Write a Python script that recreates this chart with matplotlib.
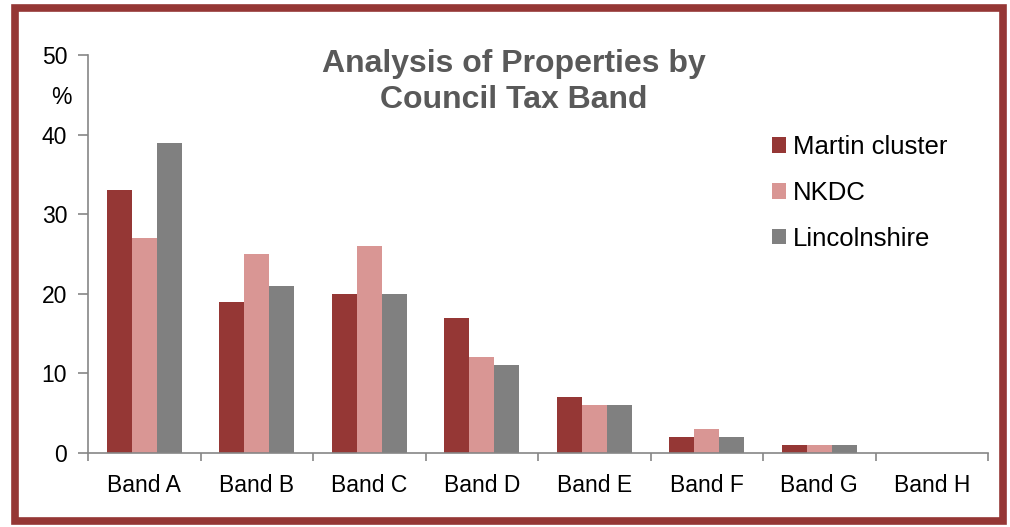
import matplotlib.pyplot as plt
import numpy as np
from matplotlib.patches import Rectangle

plt.rcParams['font.family'] = ['Liberation Sans', 'DejaVu Sans']

# Data
bands = ['Band A', 'Band B', 'Band C', 'Band D', 'Band E', 'Band F', 'Band G', 'Band H']
martin = [33, 19, 20, 17, 7, 2, 1, 0]
nkdc = [27, 25, 26, 12, 6, 3, 1, 0]
lincs = [39, 21, 20, 11, 6, 2, 1, 0]

series = [('Martin cluster', martin, '#953735'),
          ('NKDC', nkdc, '#D99694'),
          ('Lincolnshire', lincs, '#808080')]

fig = plt.figure(figsize=(10.1, 5.27), dpi=100)
ax = fig.add_axes([88 / 1010, 1 - 453 / 527, 900 / 1010, 398 / 527])

# frame around the chart
fig.patches.append(Rectangle((14.5 / 1010, 1 - 521 / 527), 988 / 1010, 513 / 527,
                             transform=fig.transFigure, fill=False,
                             edgecolor='#953735', linewidth=5.5))

x = np.arange(len(bands))
w = 0.222
for i, (name, vals, col) in enumerate(series):
    ax.bar(x + (i - 1) * w, vals, w, color=col, label=name)

ax.set_xlim(-0.5, len(bands) - 0.5)
ax.set_ylim(0, 50)
ax.set_yticks(range(0, 51, 10))
ax.set_xticks(x)
ax.set_xticklabels(bands)
ax.set_xticks(np.arange(-0.5, len(bands), 1), minor=True)
ax.tick_params(axis='x', which='major', length=0, labelsize=16.5, pad=15)
ax.tick_params(axis='x', which='minor', length=6, color='#868686', width=1.2)
ax.tick_params(axis='y', length=7, color='#868686', width=1.2, labelsize=16.5, pad=8)
for s in ['top', 'right']:
    ax.spines[s].set_visible(False)
for s in ['left', 'bottom']:
    ax.spines[s].set_color('#868686')
    ax.spines[s].set_linewidth(1.2)

fig.text(61 / 1010, 1 - 97 / 527, '%', ha='center', va='center', fontsize=16.5)

fig.text(514 / 1010, 1 - 82 / 527, 'Analysis of Properties by\nCouncil Tax Band',
         ha='center', va='center', fontsize=23, fontweight='bold',
         color='#595959', linespacing=1.27)

ax.legend(loc='upper left', bbox_to_anchor=(749 / 1010, 1 - 112 / 527),
          bbox_transform=fig.transFigure, frameon=False, fontsize=18.5,
          handlelength=0.55, handleheight=0.55, handletextpad=0.25, labelspacing=0.85)

fig.savefig('out.png', dpi=100)
